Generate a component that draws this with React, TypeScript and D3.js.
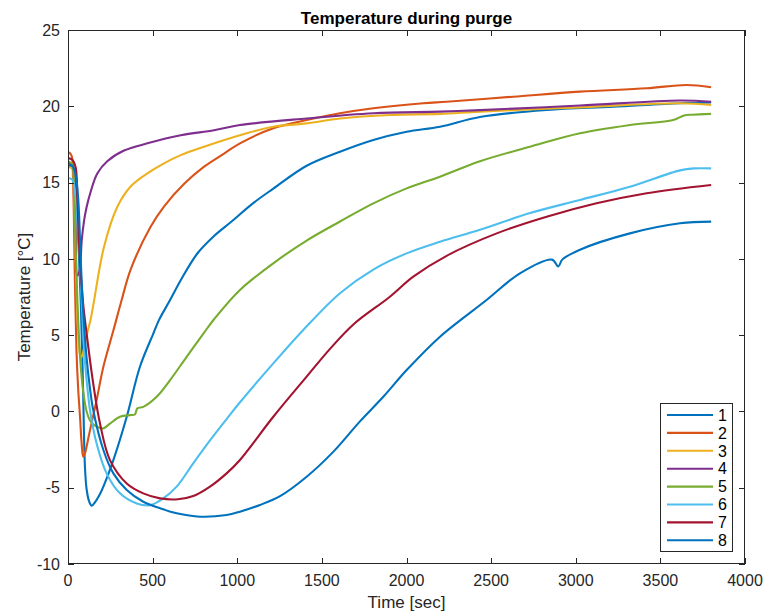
import React from "react";
import * as d3 from "d3";

const W = 763;
const H = 615;

const xTicks = [0, 500, 1000, 1500, 2000, 2500, 3000, 3500, 4000];
const yTicks = [-10, -5, 0, 5, 10, 15, 20, 25];
const seriesNames = ["1", "2", "3", "4", "5", "6", "7", "8"];
const seriesColors = ["#0072BD", "#D95319", "#EDB120", "#7E2F8E", "#77AC30", "#4DBEEE", "#A2142F", "#0072BD"];

const s1Time = [0, 30, 45, 60, 75, 88, 100, 110, 125, 140, 160, 185, 209, 268, 347, 425, 504, 538, 603, 666, 764, 863, 961, 1100, 1213, 1410, 1607, 1804, 2001, 2198, 2434, 2828, 3222, 3616, 3800];
const s1Temp = [16.1, 16.0, 15.0, 11.5, 7.3, 2.0, -3.6, -5.1, -5.9, -6.18, -5.95, -5.5, -4.93, -3.19, -0.35, 2.93, 5.1, 6.0, 7.3, 8.6, 10.35, 11.5, 12.4, 13.7, 14.6, 16.1, 17.02, 17.79, 18.33, 18.66, 19.3, 19.76, 19.97, 20.2, 20.25];

const s2Time = [0, 20, 30, 40, 50, 60, 71, 80, 90, 100, 126, 169, 209, 268, 317, 370, 488, 567, 685, 804, 922, 1016, 1213, 1410, 1607, 1804, 2099, 2237, 2631, 3025, 3419, 3655, 3800];
const s2Temp = [17.0, 16.8, 15.0, 9.0, 4.0, 1.5, -0.35, -2.0, -2.97, -2.75, -1.44, 0.74, 2.93, 5.3, 7.3, 9.3, 12.1, 13.43, 14.9, 16.04, 16.9, 17.57, 18.56, 19.1, 19.54, 19.87, 20.2, 20.3, 20.63, 20.96, 21.18, 21.4, 21.25];

const s3Time = [0, 25, 35, 45, 55, 65, 75, 85, 100, 115, 134, 150, 213, 291, 370, 469, 567, 666, 804, 1016, 1213, 1410, 1607, 1902, 2198, 2434, 3025, 3616, 3800];
const s3Temp = [16.0, 15.9, 14.5, 10.0, 6.5, 4.3, 3.5, 3.7, 4.4, 5.2, 6.04, 7.0, 10.8, 13.4, 14.74, 15.6, 16.26, 16.8, 17.35, 18.1, 18.66, 18.88, 19.2, 19.43, 19.5, 19.65, 19.93, 20.2, 20.08];

const s4Time = [0, 25, 35, 45, 55, 68, 81, 95, 110, 134, 173, 232, 331, 469, 666, 863, 1016, 1410, 1804, 2198, 2434, 3025, 3616, 3800];
const s4Temp = [16.3, 16.2, 15.5, 12.0, 8.9, 9.2, 11.2, 12.5, 13.4, 14.4, 15.6, 16.4, 17.1, 17.57, 18.1, 18.43, 18.77, 19.2, 19.54, 19.65, 19.75, 20.05, 20.38, 20.3];

const s5Time = [0, 25, 35, 45, 60, 75, 90, 110, 130, 149, 180, 209, 248, 307, 366, 395, 410, 445, 524, 603, 701, 800, 863, 1016, 1213, 1410, 1607, 1804, 2001, 2198, 2434, 2730, 3025, 3320, 3576, 3640, 3690, 3800];
const s5Temp = [16.4, 16.2, 15.0, 11.0, 6.0, 3.0, 1.3, 0.0, -0.6, -0.85, -1.05, -1.11, -0.8, -0.35, -0.24, -0.2, 0.2, 0.3, 0.96, 2.05, 3.58, 5.1, 6.04, 7.96, 9.71, 11.2, 12.45, 13.64, 14.62, 15.38, 16.4, 17.35, 18.23, 18.77, 19.1, 19.4, 19.45, 19.5];

const s6Time = [0, 25, 40, 50, 60, 70, 81, 100, 115, 130, 169, 228, 307, 406, 485, 563, 642, 740, 839, 937, 1016, 1213, 1390, 1607, 1804, 2001, 2198, 2434, 2730, 3025, 3320, 3616, 3700, 3800];
const s6Temp = [15.3, 15.2, 14.5, 13.5, 12.0, 10.0, 7.3, 3.3, 1.5, 0.09, -2.1, -4.06, -5.37, -6.03, -6.14, -5.7, -4.93, -3.4, -1.9, -0.5, 0.6, 3.15, 5.34, 7.75, 9.3, 10.36, 11.12, 11.9, 13.0, 13.86, 14.73, 15.8, 15.93, 15.93];

const s7Time = [0, 25, 45, 55, 70, 90, 110, 149, 189, 248, 347, 445, 544, 650, 740, 839, 937, 1016, 1213, 1410, 1548, 1686, 1902, 2040, 2237, 2533, 2828, 3123, 3419, 3800];
const s7Temp = [16.6, 16.5, 16.0, 14.0, 10.0, 7.0, 5.1, 1.83, -0.79, -3.19, -4.72, -5.37, -5.7, -5.76, -5.55, -4.93, -4.06, -3.18, -0.35, 2.28, 4.1, 5.7, 7.52, 8.83, 10.2, 11.67, 12.76, 13.64, 14.3, 14.84];

const s8Time = [0, 25, 45, 60, 75, 90, 110, 130, 149, 209, 268, 347, 445, 544, 642, 780, 937, 1016, 1134, 1253, 1410, 1567, 1725, 1863, 2001, 2198, 2473, 2670, 2860, 2897, 2920, 3025, 3320, 3616, 3800];
const s8Temp = [16.2, 16.1, 15.5, 14.0, 10.0, 6.5, 3.5, 1.5, 0.09, -2.53, -4.06, -5.15, -5.92, -6.35, -6.68, -6.9, -6.79, -6.57, -6.13, -5.55, -4.28, -2.65, -0.65, 0.96, 2.71, 4.9, 7.3, 9.05, 9.95, 9.5, 9.95, 10.6, 11.67, 12.33, 12.44];

const seriesTimes = [s1Time, s2Time, s3Time, s4Time, s5Time, s6Time, s7Time, s8Time];
const seriesTemps = [s1Temp, s2Temp, s3Temp, s4Temp, s5Temp, s6Temp, s7Temp, s8Temp];

const M = { left: 68, right: 745, top: 30, bottom: 564 };
const AX = "#262626";
const FONT = "'Liberation Sans', Arial, Helvetica, sans-serif";

export default function App() {
  const x = d3.scaleLinear().domain([0, 4000]).range([M.left, M.right]);
  const y = d3.scaleLinear().domain([-10, 25]).range([M.bottom, M.top]);
  const line = d3
    .line<[number, number]>()
    .x((d) => x(d[0]))
    .y((d) => y(d[1]))
    .curve(d3.curveCatmullRom.alpha(0.5));

  const legX = 660.5;
  const legY = 403.5;
  const rowH = 17.9;

  return (
    <svg
      width={W}
      height={H}
      style={{ position: "absolute", left: 0, top: 0, background: "#fff" }}
      fontFamily={FONT}
    >
      <defs>
        <clipPath id="plotclip">
          <rect x={M.left} y={M.top} width={M.right - M.left} height={M.bottom - M.top} />
        </clipPath>
      </defs>
      <rect x={0} y={0} width={W} height={H} fill="#fff" />
      <g clipPath="url(#plotclip)">
        {seriesTimes.map((ts, i) => (
          <path
            key={i}
            d={line(ts.map((t, j) => [t, seriesTemps[i][j]] as [number, number])) || ""}
            fill="none"
            stroke={seriesColors[i]}
            strokeWidth={2.1}
            strokeLinejoin="round"
          />
        ))}
      </g>
      <rect
        x={M.left + 0.5}
        y={M.top + 0.5}
        width={M.right - M.left - 1}
        height={M.bottom - M.top - 1}
        fill="none"
        stroke={AX}
        strokeWidth={1}
      />
      {xTicks.map((t) => (
        <g key={"xt" + t}>
          <line x1={Math.round(x(t)) + 0.5} x2={Math.round(x(t)) + 0.5} y1={M.bottom} y2={M.bottom - 6} stroke={AX} />
          <line x1={Math.round(x(t)) + 0.5} x2={Math.round(x(t)) + 0.5} y1={M.top} y2={M.top + 6} stroke={AX} />
          <text x={x(t)} y={586} textAnchor="middle" fontSize={16} fill={AX}>
            {t}
          </text>
        </g>
      ))}
      {yTicks.map((v) => (
        <g key={"yt" + v}>
          <line x1={M.left} x2={M.left + 6} y1={Math.round(y(v)) + 0.5} y2={Math.round(y(v)) + 0.5} stroke={AX} />
          <line x1={M.right} x2={M.right - 6} y1={Math.round(y(v)) + 0.5} y2={Math.round(y(v)) + 0.5} stroke={AX} />
          <text x={60} y={y(v)} dy="0.36em" textAnchor="end" fontSize={16} fill={AX}>
            {v}
          </text>
        </g>
      ))}
      <text x={(M.left + M.right) / 2} y={24} textAnchor="middle" fontSize={17} fontWeight="bold" fill="#000">
        Temperature during purge
      </text>
      <text x={(M.left + M.right) / 2} y={608} textAnchor="middle" fontSize={17} fill={AX}>
        Time [sec]
      </text>
      <text
        transform={`translate(30,${(M.top + M.bottom) / 2}) rotate(-90)`}
        textAnchor="middle"
        fontSize={17}
        fill={AX}
      >
        Temperature [°C]
      </text>
      <rect x={legX} y={legY} width={72} height={148} fill="#fff" stroke={AX} strokeWidth={1} />
      {seriesNames.map((n, i) => (
        <g key={"lg" + n}>
          <line
            x1={667}
            x2={713}
            y1={415 + i * rowH}
            y2={415 + i * rowH}
            stroke={seriesColors[i]}
            strokeWidth={2.1}
          />
          <text x={718} y={415 + i * rowH} dy="0.36em" fontSize={16} fill="#000">
            {n}
          </text>
        </g>
      ))}
    </svg>
  );
}
